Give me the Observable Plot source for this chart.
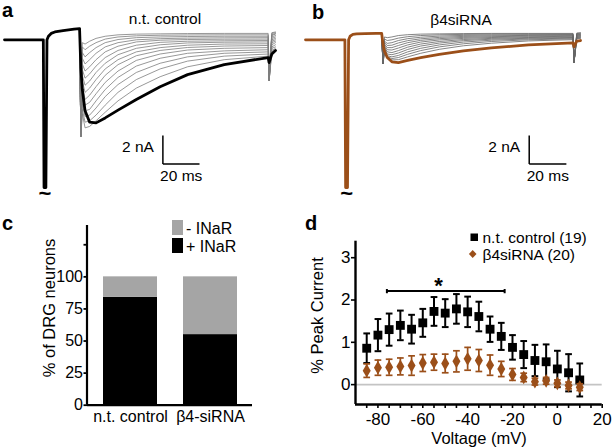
<!DOCTYPE html>
<html><head><meta charset="utf-8">
<script src="https://cdn.jsdelivr.net/npm/d3@7"></script>
<script src="https://cdn.jsdelivr.net/npm/@observablehq/plot@0.6"></script>
<style>
body{margin:0;background:#fff;}
#fig{position:relative;width:614px;height:448px;overflow:hidden;background:#fff;font-family:"Liberation Sans",Arial,Helvetica,sans-serif;}
.p{position:absolute;}
.p svg{overflow:visible;display:block;}
#ov{position:absolute;left:0;top:0;pointer-events:none;}
</style></head><body><div id="fig"></div><script>
// ---------- Panel a / b : current traces (time in ms, current in nA) ----------
const preTime = [0, 21.2, 21.6, 22.6, 23.2, 24, 25.5, 27.5, 32, 38, 41];
const prepulseCtrl = [0, 0, -10.4, -10.4, 0.0, 0.25, 0.45, 0.55, 0.65, 0.75, 0.78];
const prepulseSi   = [0, 0, -10.4, -10.4, 0.0, 0.25, 0.38, 0.42, 0.44, 0.45, 0.45];
const testTime = [41, 41.7, 42.5, 44, 46.5, 50, 55, 62, 72, 85, 100, 120, 144, 144.5, 146, 148];
const ctrlMaxTrace = [0.78, -2.0, -3.5, -5.0, -5.8, -5.85, -5.5, -4.95, -4.2, -3.3, -2.45, -1.75, -1.25, -1.6, -1.0, -0.75];
const siMaxTrace   = [0.45, -0.3, -0.8, -1.25, -1.55, -1.6, -1.45, -1.25, -1.02, -0.78, -0.57, -0.36, -0.22, -0.5, -0.1, -0.05];
const ctrlFamily = [
  [0.78,-6.8,-0.2,-0.3,-0.1,0.1,0.25,0.35,0.4,0.42,0.44,0.45,0.45,-2.4,0.5,0.55],
  [0.78,-6.8,-0.5,-0.7,-0.45,-0.2,0.05,0.2,0.28,0.32,0.34,0.35,0.35,-2.5,0.45,0.5],
  [0.78,-6.8,-0.9,-1.2,-0.9,-0.55,-0.2,0.02,0.15,0.2,0.23,0.25,0.25,-2.5,0.35,0.45],
  [0.78,-6.8,-1.3,-1.7,-1.4,-0.95,-0.5,-0.2,0.0,0.08,0.12,0.14,0.15,-2.6,0.3,0.4],
  [0.78,-6.8,-1.7,-2.2,-1.9,-1.4,-0.85,-0.45,-0.15,-0.03,0.02,0.04,0.05,-2.6,0.2,0.3],
  [0.78,-6.8,-2.1,-2.7,-2.4,-1.85,-1.25,-0.75,-0.38,-0.18,-0.1,-0.07,-0.05,-2.7,0.1,0.2],
  [0.78,-6.8,-2.5,-3.2,-2.9,-2.3,-1.65,-1.05,-0.6,-0.35,-0.22,-0.17,-0.15,-2.7,0.0,0.1],
  [0.78,-6.8,-2.9,-3.7,-3.4,-2.8,-2.05,-1.4,-0.85,-0.55,-0.38,-0.3,-0.28,-2.8,-0.1,0.0],
  [0.78,-6.8,-3.3,-4.2,-3.9,-3.3,-2.5,-1.75,-1.12,-0.75,-0.54,-0.44,-0.4,-2.8,-0.2,-0.1],
  [0.78,-6.8,-3.7,-4.6,-4.4,-3.8,-3.0,-2.2,-1.45,-1.0,-0.72,-0.6,-0.55,-2.9,-0.35,-0.2],
  [0.78,-6.8,-4.1,-5.0,-4.9,-4.3,-3.5,-2.65,-1.85,-1.3,-0.95,-0.78,-0.7,-2.9,-0.5,-0.35],
  [0.78,-6.8,-4.5,-5.4,-5.3,-4.8,-4.0,-3.15,-2.3,-1.65,-1.2,-0.95,-0.85,-2.9,-0.6,-0.5],
  [0.78,-6.8,-4.9,-5.8,-5.7,-5.3,-4.6,-3.7,-2.8,-2.05,-1.5,-1.15,-1.0,-2.9,-0.75,-0.6],
  [0.78,-6.8,-5.2,-6.2,-6.1,-5.7,-5.1,-4.3,-3.4,-2.6,-1.9,-1.4,-1.15,-2.9,-0.85,-0.7]
];
const siFamily = [
  [0.45,-1.7,0.2,0.15,0.2,0.3,0.36,0.4,0.42,0.44,0.45,0.45,0.45,-1.6,0.48,0.5],
  [0.45,-1.7,0.05,-0.05,0.0,0.12,0.22,0.3,0.35,0.38,0.4,0.41,0.41,-1.6,0.44,0.46],
  [0.45,-1.7,-0.1,-0.25,-0.2,-0.05,0.08,0.18,0.26,0.31,0.34,0.36,0.37,-1.6,0.4,0.42],
  [0.45,-1.7,-0.2,-0.4,-0.38,-0.22,-0.06,0.07,0.17,0.24,0.28,0.31,0.33,-1.6,0.36,0.38],
  [0.45,-1.7,-0.3,-0.55,-0.55,-0.4,-0.2,-0.04,0.08,0.17,0.22,0.26,0.29,-1.6,0.32,0.34],
  [0.45,-1.7,-0.4,-0.7,-0.72,-0.58,-0.36,-0.16,-0.01,0.1,0.16,0.21,0.25,-1.6,0.28,0.3],
  [0.45,-1.7,-0.5,-0.85,-0.9,-0.76,-0.52,-0.3,-0.12,0.02,0.1,0.16,0.2,-1.6,0.24,0.26],
  [0.45,-1.7,-0.6,-1.0,-1.05,-0.93,-0.68,-0.44,-0.23,-0.06,0.04,0.11,0.16,-1.6,0.2,0.22],
  [0.45,-1.7,-0.7,-1.12,-1.2,-1.1,-0.85,-0.6,-0.36,-0.16,-0.03,0.06,0.12,-1.6,0.16,0.18],
  [0.45,-1.7,-0.75,-1.2,-1.32,-1.25,-1.02,-0.76,-0.5,-0.28,-0.12,0.0,0.07,-1.6,0.12,0.14],
  [0.45,-1.7,-0.8,-1.28,-1.42,-1.4,-1.2,-0.95,-0.67,-0.42,-0.24,-0.08,0.01,-1.6,0.08,0.1]
];
const scaleBarA = {t: 86.5, i: -6.74, dt: 20, di: 2, tLabel: "20 ms", iLabel: "2 nA"};
const scaleBarB = {t: 120.4, i: -6.74, dt: 20, di: 2, tLabel: "20 ms", iLabel: "2 nA"};

// ---------- Panel c : % of DRG neurons ----------
const groups = ["n.t. control", "β4-siRNA"];
const plusINaR = [84, 55];
const minusINaR = [16, 45];
const cTicks = [0, 25, 50, 75, 100, 125];

// ---------- Panel d : % peak current vs voltage ----------
const voltage = [-85,-80,-75,-70,-65,-60,-55,-50,-45,-40,-35,-30,-25,-20,-15,-10,-5,0,5,10];
const ctrlMean = [0.86,1.17,1.30,1.40,1.31,1.46,1.73,1.69,1.79,1.72,1.61,1.31,1.14,0.88,0.71,0.57,0.54,0.37,0.28,0.11];
const ctrlSem  = [0.35,0.38,0.38,0.35,0.34,0.33,0.34,0.33,0.35,0.36,0.35,0.30,0.32,0.29,0.32,0.37,0.41,0.43,0.44,0.39];
const siMean   = [0.33,0.40,0.41,0.43,0.45,0.51,0.53,0.50,0.55,0.61,0.57,0.46,0.37,0.24,0.17,0.07,0.09,0.03,-0.02,-0.06];
const siSem    = [0.16,0.18,0.19,0.20,0.23,0.20,0.19,0.22,0.25,0.27,0.26,0.24,0.18,0.14,0.10,0.08,0.08,0.08,0.08,0.08];
const dXTicks = [-85,-80,-75,-70,-65,-60,-55,-50,-45,-40,-35,-30,-25,-20,-15,-10,-5,0,5,10,15,20];
const dYTicks = [0, 1, 2, 3];
const sigBracket = [{from: -76, to: -23.5, y: 2.21, starX: -53, starY: 2.42, label: "*"}];

const BROWN = "#9b4f19";
const FONT = '"Liberation Sans", Arial, Helvetica, sans-serif';
const fig = document.getElementById("fig");
function place(el, left, top) {
  const d = document.createElement("div");
  d.className = "p"; d.style.left = left + "px"; d.style.top = top + "px";
  d.appendChild(el); fig.appendChild(d);
}
function leftAxisLine(sw) {
  return (index, scales, values, dims) => {
    const l = document.createElementNS("http://www.w3.org/2000/svg", "line");
    l.setAttribute("x1", dims.marginLeft); l.setAttribute("x2", dims.marginLeft);
    l.setAttribute("y1", dims.marginTop); l.setAttribute("y2", dims.height - dims.marginBottom);
    l.setAttribute("stroke", "black"); l.setAttribute("stroke-width", sw);
    return l;
  };
}

function tracePlot({width, marginLeft, marginRight, family, prepulse, maxTrace, thickColor, familyColor, bar}) {
  const famRows = family.flatMap((arr, k) => testTime.map((t, j) => ({k, t, i: arr[j]})));
  const thickRows = preTime.map((t, j) => ({t, i: prepulse[j]}))
    .concat(testTime.map((t, j) => ({t, i: maxTrace[j]})));
  return Plot.plot({
    width, height: 200, marginLeft, marginRight, marginTop: 25.1, marginBottom: 13,
    x: {domain: [0, 148], axis: null}, y: {domain: [-10.4, 1.0], axis: null},
    style: {fontFamily: FONT, fontSize: "15.5px", background: "transparent", overflow: "visible", color: "black"},
    marks: [
      Plot.line(famRows, {x: "t", y: "i", z: "k", stroke: familyColor, strokeWidth: 0.8}),
      Plot.line(thickRows, {x: "t", y: "i", stroke: thickColor, strokeWidth: 2.8, strokeLinejoin: "round"}),
      Plot.text([thickRows[2]], {x: d => (preTime[2] + preTime[3]) / 2, y: "i", text: () => "~", dy: 6, fontWeight: "bold", fontSize: 22, fill: "black"}),
      Plot.link([bar], {x1: "t", x2: "t", y1: "i", y2: d => d.i - d.di, stroke: "black", strokeWidth: 1.5}),
      Plot.link([bar], {x1: "t", x2: d => d.t + d.dt, y1: d => d.i - d.di, y2: d => d.i - d.di, stroke: "black", strokeWidth: 1.5}),
      Plot.text([bar], {x: "t", y: d => d.i - d.di * 0.4, text: "iLabel", textAnchor: "end", dx: -9, fill: "black"}),
      Plot.text([bar], {x: d => d.t + d.dt / 2, y: d => d.i - d.di, text: "tLabel", dy: 12, fill: "black"})
    ]
  });
}

place(tracePlot({width: 300, marginLeft: 4, marginRight: 25, family: ctrlFamily, prepulse: prepulseCtrl,
  maxTrace: ctrlMaxTrace, thickColor: "black", familyColor: "#7d7d7d", bar: scaleBarA}), 0, 0);
place(tracePlot({width: 314, marginLeft: 5, marginRight: 34, family: siFamily, prepulse: prepulseSi,
  maxTrace: siMaxTrace, thickColor: BROWN, familyColor: "#666666", bar: scaleBarB}), 300, 0);

// Panel c
const cRows = groups.flatMap((g, k) => [
  {g, type: "+ INaR", v: plusINaR[k]},
  {g, type: "- INaR", v: minusINaR[k]}
]);
place(Plot.plot({
  width: 300, height: 448, marginLeft: 87, marginRight: 48, marginTop: 225, marginBottom: 43.3,
  x: {domain: groups, paddingInner: 0.33, paddingOuter: 0.19},
  y: {domain: [0, 140]},
  color: {domain: ["+ INaR", "- INaR"], range: ["#000000", "#a5a5a5"]},
  style: {fontFamily: FONT, fontSize: "16px", background: "transparent", overflow: "visible", color: "black"},
  marks: [
    Plot.barY(cRows, {x: "g", y: "v", fill: "type"}),
    Plot.axisX({tickSize: 0, tickPadding: 5, label: null}),
    Plot.axisY({ticks: cTicks, tickFormat: d => d === 125 ? "" : String(d), tickSize: 3.5, tickPadding: 1, strokeWidth: 1.8, label: null}),
    Plot.ruleY([0], {strokeWidth: 2.2}),
    leftAxisLine(2.2)
  ]
}), 0, 0);

// Panel d
const ctrlRows = voltage.map((v, k) => ({v, m: ctrlMean[k], e: ctrlSem[k]}));
const siRows = voltage.map((v, k) => ({v, m: siMean[k], e: siSem[k]}));
const cap = 1.5;
place(Plot.plot({
  width: 314, height: 448, marginLeft: 55, marginRight: 12.3, marginTop: 240.7, marginBottom: 44,
  x: {domain: [-90, 20]}, y: {domain: [-0.47, 3.39]},
  style: {fontFamily: FONT, fontSize: "17px", background: "transparent", overflow: "visible", color: "black"},
  marks: [
    Plot.ruleY([0], {stroke: "#c4c4c4", strokeWidth: 1.6}),
    Plot.axisX({ticks: dXTicks, tickFormat: d => d % 20 === 0 ? String(d) : "", tickSize: 4, tickPadding: 4, strokeWidth: 1.6, label: null}),
    Plot.axisY({ticks: dYTicks, tickFormat: d => String(d), tickSize: 4, tickPadding: 1, strokeWidth: 1.6, label: null}),
    Plot.ruleX([-90], {strokeWidth: 2.4}),
    Plot.ruleY([-0.47], {strokeWidth: 2.4}),
    // control error bars + squares
    Plot.ruleX(ctrlRows, {x: "v", y1: d => d.m - d.e, y2: d => d.m + d.e, stroke: "black", strokeWidth: 2}),
    Plot.link(ctrlRows, {x1: d => d.v - cap, x2: d => d.v + cap, y1: d => d.m + d.e, y2: d => d.m + d.e, stroke: "black", strokeWidth: 2}),
    Plot.link(ctrlRows, {x1: d => d.v - cap, x2: d => d.v + cap, y1: d => d.m - d.e, y2: d => d.m - d.e, stroke: "black", strokeWidth: 2}),
    Plot.dot(ctrlRows, {x: "v", y: "m", symbol: "square", r: 5, fill: "black", stroke: "none"}),
    // siRNA error bars + diamonds
    Plot.ruleX(siRows, {x: "v", y1: d => d.m - d.e, y2: d => d.m + d.e, stroke: BROWN, strokeWidth: 1.7}),
    Plot.link(siRows, {x1: d => d.v - cap, x2: d => d.v + cap, y1: d => d.m + d.e, y2: d => d.m + d.e, stroke: BROWN, strokeWidth: 1.7}),
    Plot.link(siRows, {x1: d => d.v - cap, x2: d => d.v + cap, y1: d => d.m - d.e, y2: d => d.m - d.e, stroke: BROWN, strokeWidth: 1.7}),
    Plot.dot(siRows, {x: "v", y: "m", symbol: "diamond", r: 4.2, fill: BROWN, stroke: "none"}),
    // significance bracket
    Plot.link(sigBracket, {x1: "from", x2: "to", y1: "y", y2: "y", stroke: "black", strokeWidth: 2}),
    Plot.link(sigBracket, {x1: "from", x2: "from", y1: d => d.y - 0.05, y2: d => d.y + 0.05, stroke: "black", strokeWidth: 2}),
    Plot.link(sigBracket, {x1: "to", x2: "to", y1: d => d.y - 0.05, y2: d => d.y + 0.05, stroke: "black", strokeWidth: 2}),
    Plot.text(sigBracket, {x: "starX", y: "starY", text: "label", fontSize: 22, fontWeight: "bold", dy: 4, fill: "black"})
  ]
}), 300, 0);

// Overlay: panel letters, titles, axis titles, legends
const ov = `
<svg id="ov" width="614" height="448" xmlns="http://www.w3.org/2000/svg" font-family='${FONT}'>
  <g font-weight="bold" font-size="20" fill="black">
    <text x="2" y="17">a</text>
    <text x="312" y="19">b</text>
    <text x="2" y="230">c</text>
    <text x="305" y="230">d</text>
  </g>
  <g font-size="15.5" fill="black" text-anchor="middle">
    <text x="165" y="24">n.t. control</text>
    <text x="461" y="25">β4siRNA</text>
  </g>
  <text font-size="16.5" text-anchor="middle" transform="translate(55,308) rotate(-90)">% of DRG neurons</text>
  <text font-size="16.5" text-anchor="middle" transform="translate(323,315.5) rotate(-90)">% Peak Current</text>
  <text font-size="16.5" text-anchor="middle" x="479" y="443.5">Voltage (mV)</text>
  <rect x="172" y="220" width="11" height="15" fill="#a5a5a5"/>
  <rect x="172" y="238" width="11" height="15" fill="#000"/>
  <text font-size="16" x="186" y="233.5">- INaR</text>
  <text font-size="16" x="186" y="252">+ INaR</text>
  <rect x="470.5" y="233.5" width="7.5" height="7.5" fill="#000"/>
  <path d="M472.7,250 L476.5,254 L472.7,258 L468.9,254 Z" fill="${BROWN}"/>
  <text font-size="15.5" x="482.5" y="242.5">n.t. control (19)</text>
  <text font-size="15.5" x="482.5" y="259.5">β4siRNA (20)</text>
</svg>`;
fig.insertAdjacentHTML("beforeend", ov);
</script></body></html>
